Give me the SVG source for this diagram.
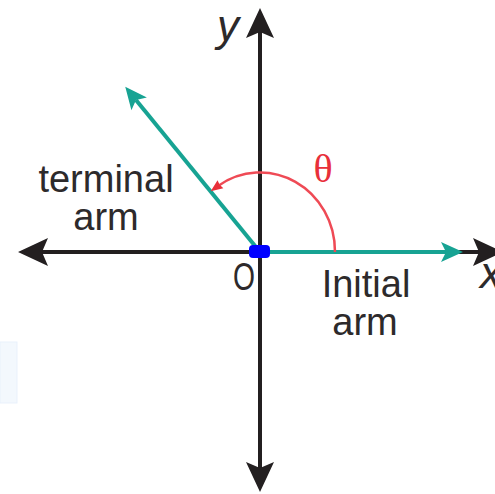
<svg xmlns="http://www.w3.org/2000/svg" width="495" height="494" viewBox="0 0 495 494">
  <style>
    .axis { stroke: #231f20; stroke-width: 4; fill: none; }
    .arm { stroke: #17a393; stroke-width: 4; fill: none; }
    .arc { stroke: #ef4a55; stroke-width: 2.5; fill: none; }
    .lbl { font-family: "Liberation Sans", Arial, sans-serif; font-size: 38px; fill: #2d2a2b; text-anchor: middle; }
    .var { font-family: "Liberation Sans", Arial, sans-serif; font-style: italic; font-size: 44px; fill: #2d2a2b; }
    .theta { font-family: "Liberation Serif", "Times New Roman", serif; font-size: 40px; fill: #e8303a; text-anchor: middle; }
  </style>
  <defs>
    <marker id="axisHead" markerUnits="userSpaceOnUse" viewBox="-8 -16 34 32" markerWidth="34" markerHeight="32" refX="0" refY="0" orient="auto-start-reverse">
      <path d="M0,0 L-6,-14 L24,0 L-6,14 Z" fill="#231f20"/>
    </marker>
    <marker id="armHead" markerUnits="userSpaceOnUse" viewBox="-8 -12 28 24" markerWidth="28" markerHeight="24" refX="0" refY="0" orient="auto">
      <path d="M0,0 L-5,-10 L17,0 L-5,10 Z" fill="#17a393"/>
    </marker>
    <marker id="arcHead" markerUnits="userSpaceOnUse" viewBox="-4 -7 16 14" markerWidth="16" markerHeight="14" refX="0" refY="0" orient="auto">
      <path d="M-2,0 L-3,-5 L9,0 L-3,5 Z" fill="#e8303a"/>
    </marker>
  </defs>

  <rect x="0" y="342" width="17" height="61" fill="#f3f8fd" stroke="#e9f1fb" stroke-width="1"/>

  <g id="connectors">
    <line id="y-axis" class="axis" x1="260" y1="468" x2="260" y2="32" marker-start="url(#axisHead)" marker-end="url(#axisHead)"/>
    <line id="x-axis" class="axis" x1="42" y1="252" x2="479" y2="252" marker-start="url(#axisHead)" marker-end="url(#axisHead)"/>
    <line id="initial-arm" class="arm" x1="260" y1="252" x2="446" y2="252" marker-end="url(#armHead)"/>
    <line id="terminal-arm" class="arm" x1="260" y1="252" x2="136" y2="100" marker-end="url(#armHead)"/>
    <path id="angle-arc" class="arc" d="M335,252 A75,79 0 0 0 218,186" marker-end="url(#arcHead)"/>
  </g>

  <g id="origin">
    <rect x="249" y="245" width="21" height="13" rx="4" fill="#0000ff"/>
    <text class="lbl" x="244" y="290" textLength="22" lengthAdjust="spacingAndGlyphs">O</text>
  </g>
  <g id="y-label"><text class="var" x="217" y="41">y</text></g>
  <g id="x-label"><text class="var" x="480" y="288">x</text></g>
  <g id="theta-label"><text class="theta" x="323" y="182">θ</text></g>
  <g id="terminal-label">
    <text class="lbl" x="106" y="192">terminal</text>
    <text class="lbl" x="106" y="230">arm</text>
  </g>
  <g id="initial-label">
    <text class="lbl" x="366" y="297">Initial</text>
    <text class="lbl" x="365" y="335">arm</text>
  </g>
</svg>
